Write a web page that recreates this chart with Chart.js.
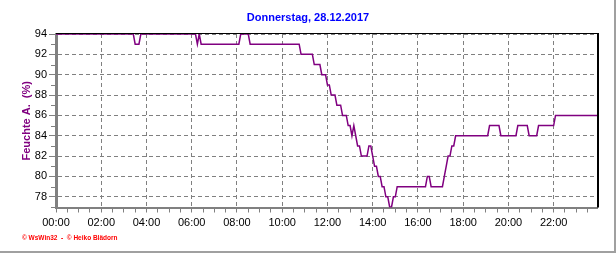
<!DOCTYPE html>
<html>
<head>
<meta charset="utf-8">
<script src="https://cdn.jsdelivr.net/npm/chart.js@4/dist/chart.umd.min.js"></script>
<style>
  html, body { margin: 0; padding: 0; background: #fff; }
</style>
</head>
<body>
<canvas id="chart" width="616" height="253"></canvas>
<script>
const chartTitle = 'Donnerstag, 28.12.2017';
const yAxisTitle = 'Feuchte A.  (%)';
const footerText = '\u00a9 WsWin32  -  \u00a9 Heiko Blädorn';
const xTickLabels = ['00:00', '02:00', '04:00', '06:00', '08:00', '10:00',
                     '12:00', '14:00', '16:00', '18:00', '20:00', '22:00'];
const yTickLabels = [78, 80, 82, 84, 86, 88, 90, 92, 94];

// humidity in %, one reading every 5 minutes, one row per hour
const humidity = [
  94,94,94,94,94,94,94,94,94,94,94,94,
  94,94,94,94,94,94,94,94,94,94,94,94,
  94,94,94,94,94,94,94,94,94,94,94,94,
  94,94,94,94,94,94,93,93,93,94,94,94,
  94,94,94,94,94,94,94,94,94,94,94,94,
  94,94,94,94,94,94,94,94,94,94,94,94,
  94,94,94,93,94,93,93,93,93,93,93,93,
  93,93,93,93,93,93,93,93,93,93,93,93,
  93,93,94,94,94,94,94,93,93,93,93,93,
  93,93,93,93,93,93,93,93,93,93,93,93,
  93,93,93,93,93,93,93,93,93,93,92,92,
  92,92,92,92,92,91,91,91,91,90,90,90,
  89,89,88,88,88,87,87,87,86,86,86,85,
  85,84,85,84,83,83,82,82,82,82,83,83,
  82,81,81,80,80,79,79,78,78,77,77,78,
  78,79,79,79,79,79,79,79,79,79,79,79,
  79,79,79,79,79,80,80,79,79,79,79,79,
  79,79,80,81,82,82,83,83,84,84,84,84,
  84,84,84,84,84,84,84,84,84,84,84,84,
  84,84,85,85,85,85,85,85,84,84,84,84,
  84,84,84,84,84,85,85,85,85,85,85,84,
  84,84,84,84,85,85,85,85,85,85,85,85,
  85,86,86,86,86,86,86,86,86,86,86,86,
  86,86,86,86,86,86,86,86,86,86,86,86
];

const pad = n => String(n).padStart(2, '0');
const times = humidity.map((_, i) => pad(Math.floor(i / 12)) + ':' + pad((i % 12) * 5));

Chart.defaults.font.family = '"Liberation Sans", Arial, sans-serif';
Chart.defaults.font.size = 11;
Chart.defaults.color = '#000';

const frame = {
  id: 'frame',
  afterDatasetsDraw(chart) {
    const {ctx, chartArea: a} = chart;
    ctx.save();
    ctx.fillStyle = '#000';
    ctx.fillRect(a.left, a.top - 1, a.right - a.left + 2, 1);
    ctx.fillRect(a.right, a.top - 1, 2, a.bottom - a.top + 1);
    ctx.restore();
  },
  afterDraw(chart) {
    const {ctx, chartArea: a, scales} = chart;
    ctx.save();
    // minor ticks on the y axis
    ctx.strokeStyle = '#808080';
    ctx.lineWidth = 1;
    for (let v = 77; v < 94; v += 2) {
      const py = Math.round(scales.y.getPixelForValue(v)) + 0.5;
      ctx.beginPath();
      ctx.moveTo(a.left - 5, py);
      ctx.lineTo(a.left, py);
      ctx.stroke();
    }
    // footer
    ctx.fillStyle = '#ff0000';
    ctx.font = 'bold 6.5px "Liberation Sans", Arial, sans-serif';
    ctx.textBaseline = 'middle';
    ctx.fillText(footerText, 22, 238.5);
    // outer frame
    ctx.fillStyle = '#a0a0a0';
    ctx.fillRect(614, 0, 2, 253);
    ctx.fillRect(0, 251, 616, 2);
    ctx.restore();
  }
};

new Chart(document.getElementById('chart'), {
  type: 'line',
  data: {
    labels: times,
    datasets: [{
      data: humidity,
      borderColor: '#800080',
      borderWidth: 1.5,
      pointRadius: 0,
      tension: 0,
      fill: false
    }]
  },
  options: {
    responsive: false,
    animation: false,
    devicePixelRatio: 1,
    layout: { padding: 0 },
    plugins: {
      legend: { display: false },
      tooltip: { enabled: false },
      title: {
        display: true,
        text: chartTitle,
        color: '#0000ff',
        font: { size: 11, weight: 'bold' },
        padding: { top: 11, bottom: 9.8 }
      }
    },
    scales: {
      x: {
        type: 'category',
        offset: false,
        afterFit: s => { s.height = 45.5; },
        grid: {
          color: c => (c.index % 24 === 0 && c.index > 0) ? '#808080' : 'rgba(0,0,0,0)',
          tickColor: c => c.index % 6 === 0 ? '#808080' : 'rgba(0,0,0,0)',
          tickLength: 5,
          lineWidth: 1
        },
        border: { display: true, color: '#808080', width: 2, dash: [4, 3] },
        ticks: {
          autoSkip: false,
          maxRotation: 0,
          minRotation: 0,
          padding: 4,
          callback: (v, i) => xTickLabels.includes(times[i]) && i % 24 === 0 ? times[i] : ''
        }
      },
      y: {
        min: 76.95,
        max: 94,
        afterBuildTicks: s => { s.ticks = yTickLabels.map(v => ({ value: v })); },
        afterFit: s => { s.width = 56; },
        grid: {
          color: '#808080',
          tickColor: '#808080',
          tickLength: 7,
          lineWidth: 1
        },
        border: { display: true, color: '#808080', width: 3, dash: [4, 3] },
        ticks: { padding: 2 },
        title: {
          display: true,
          text: yAxisTitle,
          color: '#800080',
          font: { size: 11, weight: 'bold' },
          padding: { top: 20, bottom: 0 }
        }
      },
      // empty strip on the right, keeps the title centred on the whole picture
      yRight: {
        position: 'right',
        afterFit: s => { s.width = 19; },
        grid: { display: false },
        ticks: { display: false },
        border: { display: false }
      }
    }
  },
  plugins: [frame]
});
</script>
</body>
</html>
